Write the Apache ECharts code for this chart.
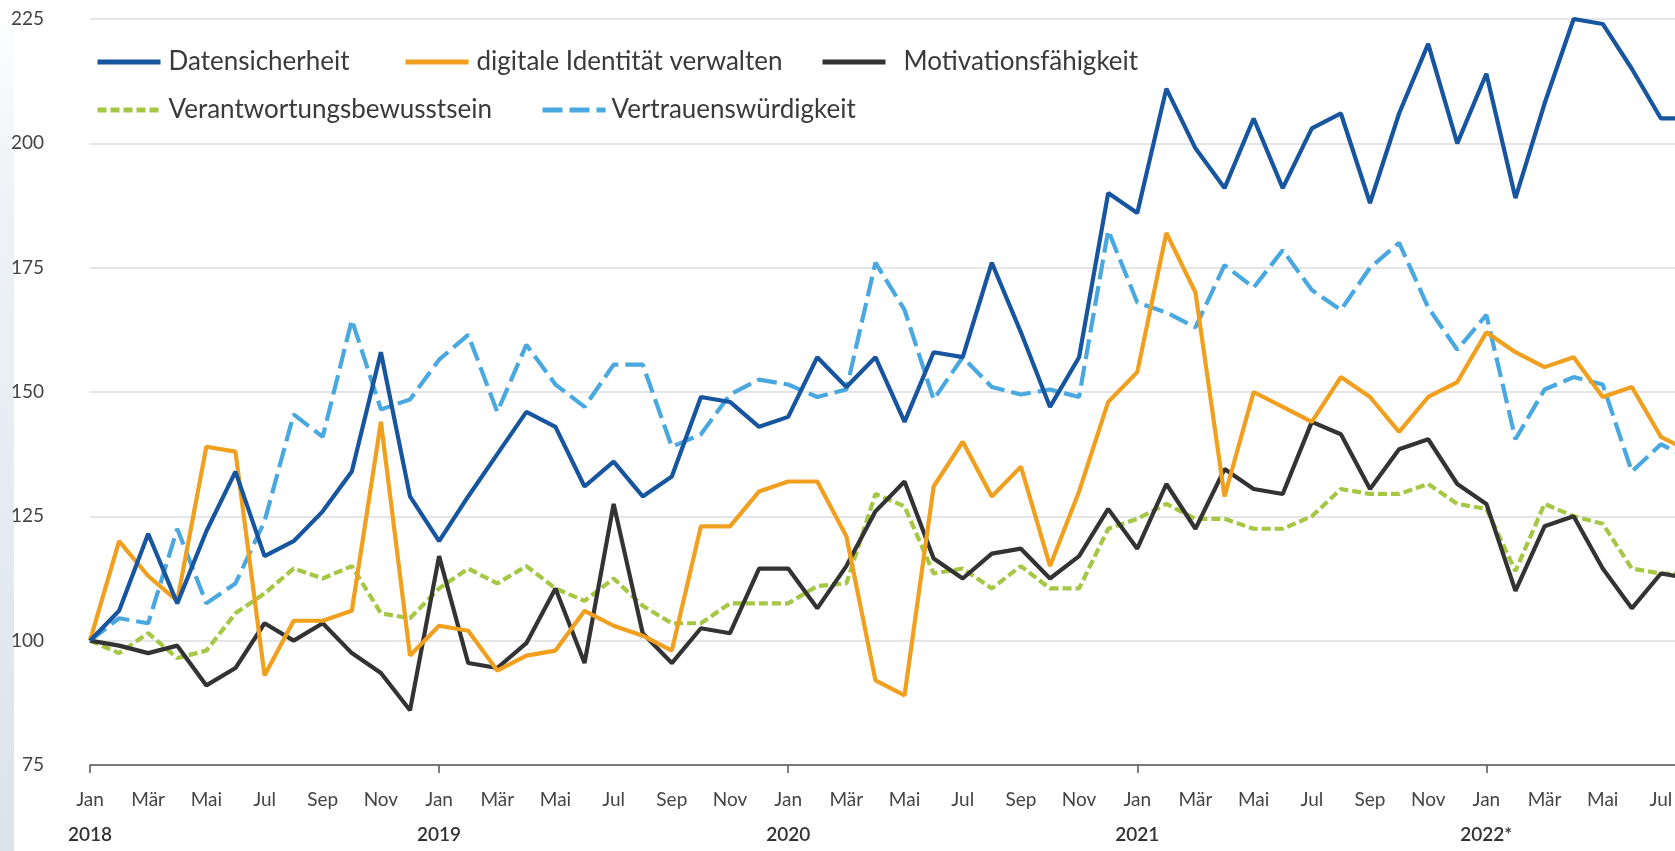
<!DOCTYPE html>
<html lang="de">
<head>
    <meta charset="utf-8">
    <title>Kompetenzen</title>
    <style>
        html, body { margin: 0; padding: 0; background: #fff; }
        #main { width: 1675px; height: 851px; }
    </style>
</head>
<body>
    <div id="main"></div>
    <script src="https://cdn.jsdelivr.net/npm/echarts@6/dist/echarts.min.js"></script>
    <script type="text/javascript">

    // Achsen
    var monthNames = ['Jan', 'Feb', 'Mär', 'Apr', 'Mai', 'Jun', 'Jul', 'Aug', 'Sep', 'Okt', 'Nov', 'Dez'];
    var yearLabels = ['2018', '2019', '2020', '2021', '2022*'];
    var monthCount = 56; // Jan 2018 - Aug 2022
    var yTicks = [75, 100, 125, 150, 175, 200, 225];

    // Reihen (Index, Jan 2018 = 100)
    var datensicherheit = [
        100, 106, 121.5, 107.5, 122, 134, 117, 120, 126, 134, 158, 129,
        120, 129, 137.5, 146, 143, 131, 136, 129, 133, 149, 148, 143,
        145, 157, 151, 157, 144, 158, 157, 176, 162, 147, 157, 190,
        186, 211, 199, 191, 205, 191, 203, 206, 188, 206, 220, 200,
        214, 189, 208, 225, 224, 215, 205, 205
    ];
    var digitaleIdentitaet = [
        100, 120, 113, 108, 139, 138, 93, 104, 104, 106, 144, 97,
        103, 102, 94, 97, 98, 106, 103, 101, 98, 123, 123, 130,
        132, 132, 121, 92, 89, 131, 140, 129, 135, 115, 130, 148,
        154, 182, 170, 129, 150, 147, 144, 153, 149, 142, 149, 152,
        162, 158, 155, 157, 149, 151, 141, 138
    ];
    var motivation = [
        100, 99, 97.5, 99, 91, 94.5, 103.5, 100, 103.5, 97.5, 93.5, 86,
        117, 95.5, 94.5, 99.5, 110.5, 95.5, 127.5, 101.5, 95.5, 102.5, 101.5, 114.5,
        114.5, 106.5, 115, 126, 132, 116.5, 112.5, 117.5, 118.5, 112.5, 117, 126.5,
        118.5, 131.5, 122.5, 134.5, 130.5, 129.5, 144, 141.5, 130.5, 138.5, 140.5, 131.5,
        127.5, 110, 123, 125, 114.5, 106.5, 113.5, 112.5
    ];
    var verantwortung = [
        100, 97.5, 101.5, 96.5, 98, 105.5, 109.5, 114.5, 112.5, 115, 105.5, 104.5,
        110.5, 114.5, 111.5, 115, 110.5, 108, 112.5, 107, 103.5, 103.5, 107.5, 107.5,
        107.5, 111, 111.5, 129.5, 127, 113.5, 114.5, 110.5, 115, 110.5, 110.5, 122.5,
        124.5, 127.5, 124.5, 124.5, 122.5, 122.5, 125, 130.5, 129.5, 129.5, 131.5, 127.5,
        126.5, 114, 127.5, 125, 123.5, 114.5, 113.5, 113.5
    ];
    var vertrauen = [
        100, 104.5, 103.5, 122.5, 107.5, 111.5, 124, 145.5, 141, 164.5, 146.5, 148.5,
        156.5, 161.5, 146, 159.5, 151.5, 147, 155.5, 155.5, 139, 141.5, 149.5, 152.5,
        151.5, 149, 150.5, 176, 166.5, 148.5, 157, 151, 149.5, 150.5, 149, 182.5,
        168, 166, 163, 175.5, 171, 178.5, 170.5, 166.5, 175, 180, 167, 158.5,
        165.5, 140.5, 150.5, 153, 151.5, 134, 139.5, 136.5
    ];

    var categories = [];
    for (var i = 0; i < monthCount; i++) {
        categories.push(monthNames[i % 12] + ' ' + yearLabels[Math.floor(i / 12)]);
    }

    var font = 'Lato';
    var myChart = echarts.init(document.getElementById('main'));

    function lineSeries(name, data, color, dash) {
        return {
            name: name,
            type: 'line',
            data: data,
            symbol: 'none',
            lineStyle: { color: color, width: 4.2, type: dash || 'solid' },
            itemStyle: { color: color }
        };
    }

    // eine Legende je Eintrag, damit die Abstaende wie im Original sitzen
    function legendItem(name, left, top, pad) {
        return {
            data: [name],
            left: left,
            top: top,
            itemWidth: 63,
            itemHeight: 14,
            itemStyle: { opacity: 0 },
            lineStyle: { width: 5 },
            textStyle: { fontFamily: font, fontSize: 26, color: '#3a3a3a', padding: [0, 0, 0, pad] }
        };
    }

    var option = {
        animation: false,
        backgroundColor: '#fff',
        textStyle: { fontFamily: font },
        graphic: [{
            type: 'rect',
            left: 0,
            top: 0,
            z: -1,
            shape: { width: 14, height: 851 },
            style: {
                fill: new echarts.graphic.LinearGradient(0, 0, 0, 1, [
                    { offset: 0, color: 'rgba(235,240,245,0)' },
                    { offset: 0.25, color: '#eef2f6' },
                    { offset: 1, color: '#dbe3eb' }
                ])
            }
        }],
        legend: [
            legendItem('Datensicherheit', 90, 44, 3),
            legendItem('digitale Identität verwalten', 398, 44, 3),
            legendItem('Motivationsfähigkeit', 815, 44, 13),
            legendItem('Verantwortungsbewusstsein', 90, 92, 3),
            legendItem('Vertrauenswürdigkeit', 535, 92, 1)
        ],
        grid: {
            left: 90,
            right: -15,
            top: 19,
            bottom: 86,
            containLabel: false,
            outerBoundsMode: 'none'
        },
        xAxis: {
            type: 'category',
            boundaryGap: false,
            data: categories,
            axisLine: { show: true, lineStyle: { color: '#555', width: 1.5 } },
            axisTick: {
                show: true,
                length: 8,
                interval: function (idx) { return idx % 12 === 0; },
                lineStyle: { color: '#555', width: 1.5 }
            },
            axisLabel: {
                interval: 1,
                margin: 17,
                formatter: function (value, idx) {
                    var parts = value.split(' ');
                    if (idx % 12 === 0) {
                        return '{m|' + parts[0] + '}\n{y|' + parts[1] + '}';
                    }
                    return '{m|' + parts[0] + '}';
                },
                rich: {
                    m: { fontFamily: font, fontSize: 19, color: '#444', lineHeight: 35 },
                    y: { fontFamily: font, fontSize: 19, color: '#333', fontWeight: 600, lineHeight: 35 }
                }
            },
            splitLine: { show: false }
        },
        yAxis: {
            type: 'value',
            min: yTicks[0],
            max: yTicks[yTicks.length - 1],
            interval: 25,
            axisLine: { show: false },
            axisTick: { show: false },
            axisLabel: {
                margin: 46,
                fontFamily: font,
                fontSize: 19,
                color: '#444'
            },
            splitLine: { show: true, lineStyle: { color: '#dddddd', width: 1.5 } }
        },
        series: [
            lineSeries('Vertrauenswürdigkeit', vertrauen, '#4aa8e0', [20, 7]),
            lineSeries('Verantwortungsbewusstsein', verantwortung, '#a6c744', [9, 4]),
            lineSeries('Motivationsfähigkeit', motivation, '#333333'),
            lineSeries('digitale Identität verwalten', digitaleIdentitaet, '#f0a01e'),
            lineSeries('Datensicherheit', datensicherheit, '#17559f')
        ]
    };
    myChart.setOption(option);
    </script>
</body>
</html>
